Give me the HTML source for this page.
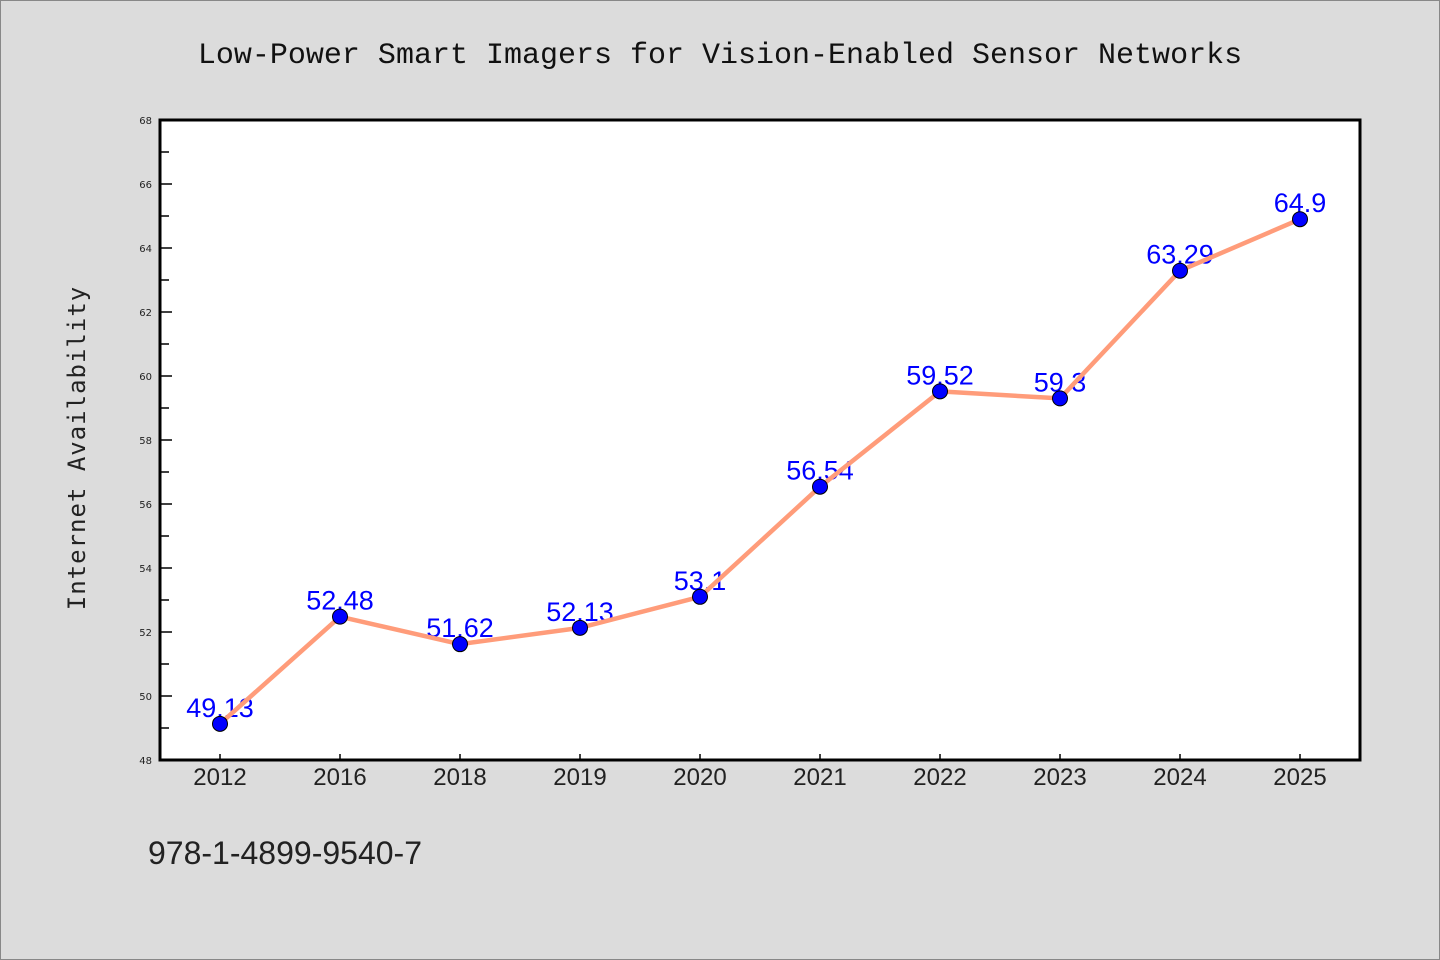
<!DOCTYPE html>
<html><head><meta charset="utf-8"><style>
body{margin:0;background:#dcdcdc;}
svg{display:block;}
</style></head><body>
<svg id="chart" width="1440" height="960" xmlns="http://www.w3.org/2000/svg">
<rect x="0.5" y="0.5" width="1439" height="959" fill="#dcdcdc" stroke="#888"/>
<text x="720" y="63" text-anchor="middle" font-family="'Liberation Mono','DejaVu Sans Mono',monospace" font-size="30" fill="#111">Low-Power Smart Imagers for Vision-Enabled Sensor Networks</text>
<text transform="translate(85,448) rotate(-90)" text-anchor="middle" font-family="'DejaVu Sans Mono','Liberation Mono',monospace" font-size="24" fill="#222" letter-spacing="1">Internet Availability</text>
<text x="148" y="864" font-family="'Liberation Sans','DejaVu Sans',sans-serif" font-size="32" fill="#222">978-1-4899-9540-7</text>
<rect x="160" y="120" width="1200" height="640" fill="#fff" stroke="#000" stroke-width="3"/>
<g id="axes"></g>
<g id="series"></g>
</svg>
<script>
const categories = ["2012","2016","2018","2019","2020","2021","2022","2023","2024","2025"];
const values = [49.13,52.48,51.62,52.13,53.1,56.54,59.52,59.3,63.29,64.9];
const valueLabels = ["49.13","52.48","51.62","52.13","53.1","56.54","59.52","59.3","63.29","64.9"];
const yTicks = [48,50,52,54,56,58,60,62,64,66,68];
const yMin = 48, yMax = 68;
const plotL = 160, plotR = 1360, plotT = 120, plotB = 760;
function xScale(i){ return 220 + i * (1300 - 220) / (categories.length - 1); }
function yScale(v){ return plotB - (v - yMin) / (yMax - yMin) * (plotB - plotT); }
const NS = "http://www.w3.org/2000/svg";
const axes = document.getElementById('axes');
const series = document.getElementById('series');
function mk(tag, attrs, parent){ const e = document.createElementNS(NS, tag); for (const k in attrs) e.setAttribute(k, attrs[k]); parent.appendChild(e); return e; }
yTicks.forEach(function(t){
  const y = yScale(t);
  const tk = mk('line', {x1: plotL, x2: plotL + 12, y1: y, y2: y, stroke: '#000', 'stroke-width': 1.5}, axes);
  
  
  const lb = mk('text', {x: 152, y: y + 4, 'text-anchor': 'end', 'font-family': "'DejaVu Sans',sans-serif", 'font-size': 10, fill: '#222'}, axes);
  lb.textContent = t;
  
  
  if (t < yMax) {
    const ym = yScale(t + 1);
    const mn = mk('line', {x1: plotL, x2: plotL + 9, y1: ym, y2: ym, stroke: '#000', 'stroke-width': 1.5}, axes);
    
    
  }
});
categories.forEach(function(c, i){
  const x = xScale(i);
  const tk = mk('line', {x1: x, x2: x, y1: plotB, y2: plotB - 6, stroke: '#000', 'stroke-width': 1.5}, axes);
  
  
  const lb = mk('text', {x: x, y: 785, 'text-anchor': 'middle', 'font-family': "'Liberation Sans','DejaVu Sans',sans-serif", 'font-size': 24, fill: '#222'}, axes);
  lb.textContent = c;
  
  
});
values.forEach(function(v, i){
  const lb = mk('text', {x: xScale(i), y: yScale(v) - 7, 'text-anchor': 'middle', 'font-family': "'Liberation Sans','DejaVu Sans',sans-serif", 'font-size': 27, fill: '#0000ff'}, series);
  lb.textContent = valueLabels[i];
  
  
});
const pts = values.map(function(v, i){ return xScale(i) + ',' + yScale(v); }).join(' ');
const line = mk('polyline', {points: pts, fill: 'none', stroke: '#ff9c7a', 'stroke-width': 4.5, 'stroke-linejoin': 'round'}, series);


values.forEach(function(v, i){
  const c = mk('circle', {cx: xScale(i), cy: yScale(v), r: 7.5, fill: '#0000ff', stroke: '#000', 'stroke-width': 1}, series);
  
  
});
</script>
</body></html>
